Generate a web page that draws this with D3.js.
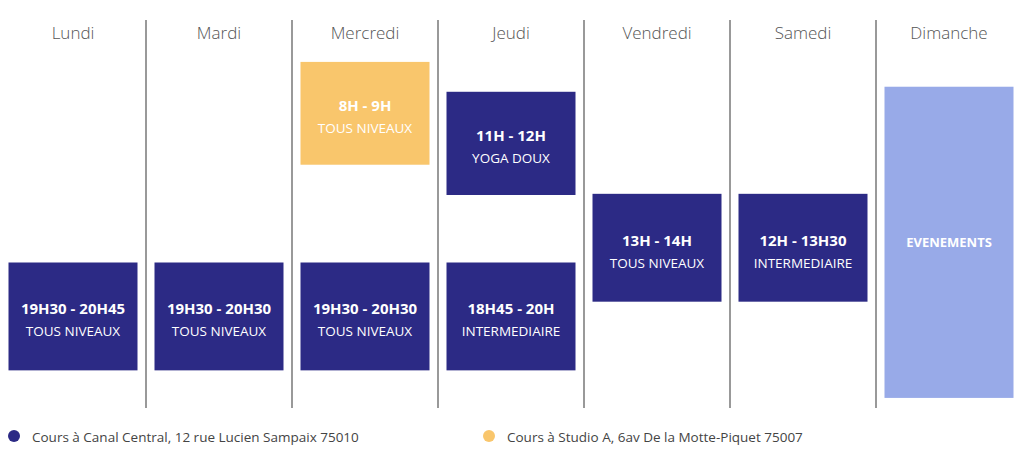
<!DOCTYPE html>
<html><head><meta charset="utf-8">
<script src="https://cdn.jsdelivr.net/npm/d3@7"></script>
<style>body{margin:0;background:#fff;font-family:"Open Sans",sans-serif}</style>
</head><body>
<svg id="chart" width="1024" height="452"></svg>
<script>
const days = ["Lundi", "Mardi", "Mercredi", "Jeudi", "Vendredi", "Samedi", "Dimanche"];
// slot units on a 0..10 vertical grid
const classDays = ["Lundi", "Mardi", "Mercredi", "Mercredi", "Jeudi", "Jeudi", "Vendredi", "Samedi", "Dimanche"];
const classStart = [6.25, 6.25, 1.08, 6.25, 1.85, 6.25, 4.48, 4.48, 1.72];
const classEnd = [9.03, 9.03, 3.73, 9.03, 4.51, 9.03, 7.26, 7.26, 9.74];
const classTime = ["19H30 - 20H45", "19H30 - 20H30", "8H - 9H", "19H30 - 20H30", "11H - 12H", "18H45 - 20H", "13H - 14H", "12H - 13H30", "EVENEMENTS"];
const classLevel = ["TOUS NIVEAUX", "TOUS NIVEAUX", "TOUS NIVEAUX", "TOUS NIVEAUX", "YOGA DOUX", "INTERMEDIAIRE", "TOUS NIVEAUX", "INTERMEDIAIRE", ""];
const classPlace = ["canal", "canal", "studio", "canal", "canal", "canal", "canal", "canal", "event"];
const legendLabels = ["Cours à Canal Central, 12 rue Lucien Sampaix 75010", "Cours à Studio A, 6av De la Motte-Piquet 75007"];

const colors = { canal: "#2c2a85", studio: "#f9c66c", event: "#98aae8" };

const svg = d3.select("#chart");
const x = d3.scaleBand().domain(days).range([0, 1022]).paddingInner(0).paddingOuter(0);
const y = d3.scaleLinear().domain([0, 10]).range([20, 408]);
const blockW = 129;

svg.selectAll(".sep").data(days.slice(1)).enter().append("line")
  .attr("x1", (d) => x(d)).attr("x2", (d) => x(d))
  .attr("y1", y(0)).attr("y2", y(10))
  .attr("stroke", "#555").attr("stroke-width", 1.2);

svg.selectAll(".day").data(days).enter().append("text")
  .attr("x", (d) => x(d) + x.bandwidth() / 2).attr("y", 39)
  .attr("text-anchor", "middle").attr("fill", "#555").attr("font-size", 17)
  .attr("font-weight", 300).text((d) => d);

const blocks = classDays.map((d, i) => ({
  day: d, s: classStart[i], e: classEnd[i], time: classTime[i], level: classLevel[i], place: classPlace[i]
}));

const g = svg.selectAll(".block").data(blocks).enter().append("g");
g.append("rect")
  .attr("x", (d) => x(d.day) + x.bandwidth() / 2 - blockW / 2)
  .attr("width", blockW)
  .attr("y", (d) => y(d.s)).attr("height", (d) => y(d.e) - y(d.s))
  .attr("fill", (d) => colors[d.place]);
g.append("text")
  .attr("x", (d) => x(d.day) + x.bandwidth() / 2)
  .attr("y", (d) => (y(d.s) + y(d.e)) / 2 + (d.level ? -2 : 5))
  .attr("text-anchor", "middle").attr("fill", "#fff")
  .attr("font-size", (d) => d.level ? 15 : 13).attr("font-weight", 700)
  .text((d) => d.time);
g.append("text")
  .attr("x", (d) => x(d.day) + x.bandwidth() / 2)
  .attr("y", (d) => (y(d.s) + y(d.e)) / 2 + 20)
  .attr("text-anchor", "middle").attr("fill", "#fff")
  .attr("font-size", 13.5)
  .text((d) => d.level);

const legendX = [14, 489];
const legendColors = [colors.canal, colors.studio];
legendLabels.forEach((t, i) => {
  svg.append("circle").attr("cx", legendX[i]).attr("cy", 436).attr("r", 6).attr("fill", legendColors[i]);
  svg.append("text").attr("x", legendX[i] + 18).attr("y", 442)
    .attr("fill", "#444").attr("font-size", 13.5).text(t);
});
</script>
</body></html>
